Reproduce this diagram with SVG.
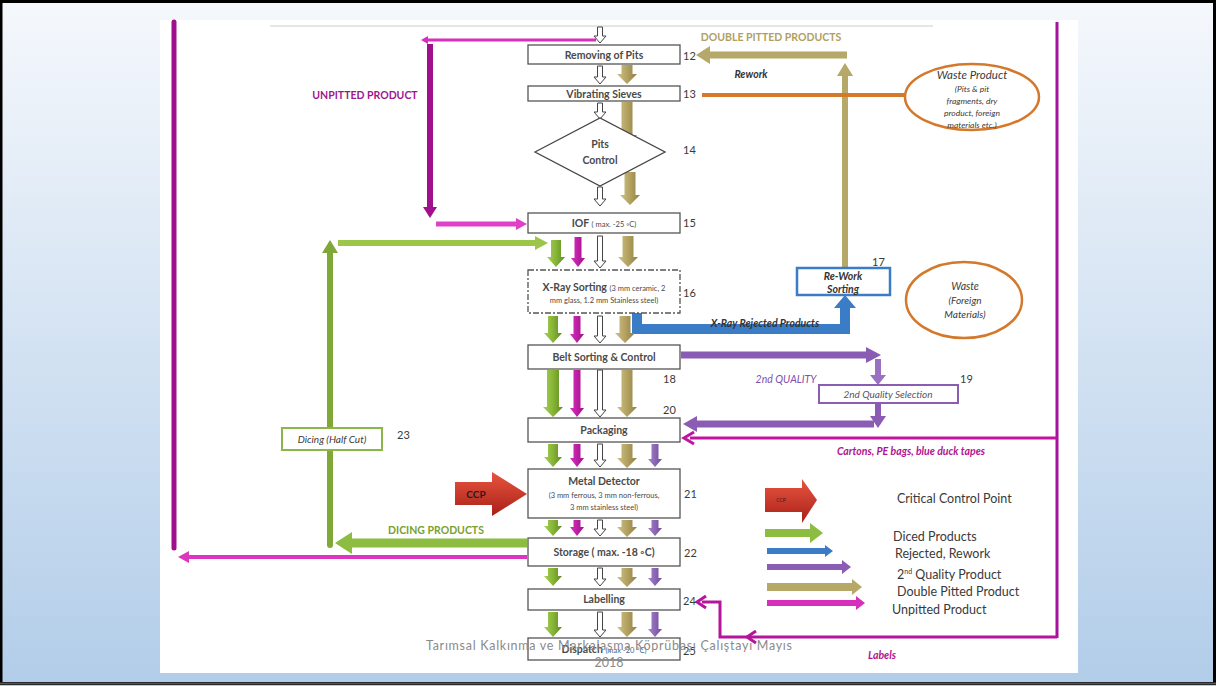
<svg xmlns="http://www.w3.org/2000/svg" width="1216" height="686" viewBox="0 0 1216 686">
  <defs>
    <linearGradient id="bg" x1="0" y1="0" x2="0" y2="1">
      <stop offset="0" stop-color="#f5f8fc"/>
      <stop offset="1" stop-color="#b2cde9"/>
    </linearGradient>
    <linearGradient id="gGold" x1="0" y1="0" x2="1" y2="0">
      <stop offset="0" stop-color="#cfc28a"/>
      <stop offset="0.5" stop-color="#b3a260"/>
      <stop offset="1" stop-color="#8f7f45"/>
    </linearGradient>
    <linearGradient id="gGreen" x1="0" y1="0" x2="1" y2="0">
      <stop offset="0" stop-color="#a8d055"/>
      <stop offset="0.5" stop-color="#86b536"/>
      <stop offset="1" stop-color="#5f8a22"/>
    </linearGradient>
    <linearGradient id="gMag" x1="0" y1="0" x2="1" y2="0">
      <stop offset="0" stop-color="#d830bd"/>
      <stop offset="1" stop-color="#a0108a"/>
    </linearGradient>
    <linearGradient id="gPur" x1="0" y1="0" x2="1" y2="0">
      <stop offset="0" stop-color="#a784cf"/>
      <stop offset="1" stop-color="#6f4a9a"/>
    </linearGradient>
    <linearGradient id="gRed" x1="0" y1="0" x2="0" y2="1">
      <stop offset="0" stop-color="#e8553f"/>
      <stop offset="1" stop-color="#a82018"/>
    </linearGradient>
  </defs>
  <style>
    text { font-family: "Lato", "Open Sans", "Liberation Sans", sans-serif; }
    .box { fill: #ffffff; stroke: #555555; stroke-width: 1.3; }
    .bt { fill: #4a4a4a; font-weight: bold; font-size: 10.5px; text-anchor: middle; }
    .sm { font-size: 7.5px; font-weight: normal; }
    .num { fill: #3a3a3a; font-size: 11px; }
    .hol { fill: #ffffff; stroke: #444444; stroke-width: 1; }
    .gold { fill: url(#gGold); }
    .green { fill: url(#gGreen); }
    .mag { fill: url(#gMag); }
    .pur { fill: url(#gPur); }
    .leg { fill: #3a3a3a; font-size: 12.5px; }
    .lab { font-weight: bold; font-size: 10.5px; text-anchor: middle; }
    .it { font-style: italic; }
  </style>

  <!-- slide background and frame -->
  <rect x="0" y="0" width="1216" height="686" fill="url(#bg)"/>
  <rect x="160" y="20" width="918" height="653" fill="#ffffff"/>
  <line x1="270" y1="26" x2="933" y2="26" stroke="#c8ccd0" stroke-width="1"/>
  <rect x="1" y="1.5" width="1213.5" height="682" fill="none" stroke="#000000" stroke-width="3"/>
  <line x1="0" y1="683.5" x2="1216" y2="683.5" stroke="#555555" stroke-width="2"/>

  <!-- connectors -->
  <g id="connectors">
    <!-- unpitted product loop -->
    <line x1="596" y1="40" x2="425" y2="40" stroke="#d62fbb" stroke-width="3"/>
    <polygon points="428,36 428,44 421,40" fill="#d62fbb"/>
    <line x1="430" y1="44" x2="430" y2="208" stroke="#a0108c" stroke-width="6"/>
    <polygon points="423,207 437,207 430,218" fill="#a0108c"/>
    <line x1="436" y1="224" x2="517" y2="224" stroke="#e040c8" stroke-width="5"/>
    <polygon points="516,218 516,230 527,224" fill="#e040c8"/>

    <!-- long unpitted return on the left -->
    <line x1="174" y1="22" x2="174" y2="548" stroke="#a0108c" stroke-width="5" stroke-linecap="round"/>
    <line x1="527" y1="557" x2="188" y2="557" stroke="#dd35c0" stroke-width="4"/>
    <polygon points="189,551 189,563 178,557" fill="#dd35c0"/>

    <!-- dicing loop -->
    <line x1="330" y1="545" x2="330" y2="252" stroke="#80a838" stroke-width="6" stroke-linecap="round"/>
    <polygon points="322,253 338,253 330,240" fill="#80a838"/>
    <line x1="338" y1="243" x2="536" y2="243" stroke="#9cc64a" stroke-width="6"/>
    <polygon points="535,236 535,250 548,243" fill="#9cc64a"/>
    <line x1="527" y1="543" x2="350" y2="543" stroke="#8cbc40" stroke-width="9"/>
    <polygon points="352,532 352,554 335,543" fill="#8cbc40"/>

    <!-- double pitted rework -->
    <line x1="847" y1="55" x2="709" y2="55" stroke="#b5a868" stroke-width="7"/>
    <polygon points="710,46 710,64 696,55" fill="#b5a868"/>
    <line x1="845" y1="268" x2="845" y2="75" stroke="#b5a868" stroke-width="6"/>
    <polygon points="837,76 853,76 845,63" fill="#b5a868"/>

    <!-- waste line from sieves -->
    <line x1="702" y1="95" x2="906" y2="95" stroke="#d4782c" stroke-width="4"/>

    <!-- x-ray rejected products -->
    <polyline points="637,313 637,329 845,329 845,307" fill="none" stroke="#3a7cc6" stroke-width="10"/>
    <polygon points="834,308 856,308 845,295" fill="#3a7cc6"/>

    <!-- 2nd quality loop -->
    <line x1="681" y1="355" x2="867" y2="355" stroke="#8a5cb4" stroke-width="7"/>
    <polygon points="866,347 866,363 881,355" fill="#8a5cb4"/>
    <line x1="878" y1="359" x2="878" y2="376" stroke="#9a70c4" stroke-width="6"/>
    <polygon points="870,375 886,375 878,385" fill="#9a70c4"/>
    <line x1="878" y1="402" x2="878" y2="417" stroke="#8a5cb4" stroke-width="6"/>
    <polygon points="870,416 886,416 878,428" fill="#8a5cb4"/>
    <line x1="874" y1="424" x2="696" y2="424" stroke="#8a5cb4" stroke-width="7"/>
    <polygon points="697,416 697,432 683,424" fill="#8a5cb4"/>

    <!-- packaging materials and labels supply -->
    <line x1="1057" y1="22" x2="1057" y2="638" stroke="#a5139a" stroke-width="3"/>
    <line x1="1057" y1="438" x2="690" y2="438" stroke="#c0169f" stroke-width="3"/>
    <polyline points="694,432 684,438 694,444" fill="none" stroke="#c0169f" stroke-width="3"/>
    <polyline points="1057,637 720,637 720,602 702,602" fill="none" stroke="#b5149c" stroke-width="3"/>
    <polyline points="706,596 697,602 706,608" fill="none" stroke="#b5149c" stroke-width="3"/>
    <polyline points="756,631 747,637 756,643" fill="none" stroke="#b5149c" stroke-width="3"/>

    <!-- main flow: hollow arrows -->
    <path class="hol" d="M597.5 27H602.5V36H606L600 43L594 36H597.5Z"/>
    <path class="hol" d="M597.5 66H602.5V77H606L600 84L594 77H597.5Z"/>
    <path class="hol" d="M597.5 103H602.5V112H606L600 119L594 112H597.5Z"/>
    <path class="hol" d="M597.5 187H602.5V199H606L600 206L594 199H597.5Z"/>
    <path class="hol" d="M597.5 236H602.5V261H606L600 268L594 261H597.5Z"/>
    <path class="hol" d="M597.5 316H602.5V336H606L600 343L594 336H597.5Z"/>
    <path class="hol" d="M597.5 370H602.5V410H606L600 417L594 410H597.5Z"/>
    <path class="hol" d="M597.5 444H602.5V460H606L600 467L594 460H597.5Z"/>
    <path class="hol" d="M597.5 520H602.5V529H606L600 536L594 529H597.5Z"/>
    <path class="hol" d="M597.5 568H602.5V579H606L600 586L594 579H597.5Z"/>
    <path class="hol" d="M597.5 612H602.5V630H606L600 637L594 630H597.5Z"/>

    <!-- double pitted stream -->
    <path class="gold" d="M621.5 65H632.5V74H637L627 84L617 74H621.5Z"/>
    <path class="gold" d="M621.5 102H632.5V135H637L627 145L617 135H621.5Z"/>
    <path class="gold" d="M624.5 172H635.5V195H640L630 205L620 195H624.5Z"/>
    <path class="gold" d="M622.5 236H633.5V257H638L628 267L618 257H622.5Z"/>
    <path class="gold" d="M619.5 316H630.5V333H635L625 343L615 333H619.5Z"/>
    <path class="gold" d="M621.5 370H632.5V407H637L627 417L617 407H621.5Z"/>
    <path class="gold" d="M621.5 444H632.5V458H637L627 468L617 458H621.5Z"/>
    <path class="gold" d="M621.5 520H632.5V527H637L627 537L617 527H621.5Z"/>
    <path class="gold" d="M621.5 568H632.5V577H637L627 587L617 577H621.5Z"/>
    <path class="gold" d="M621.5 612H632.5V627H637L627 637L617 627H621.5Z"/>

    <!-- diced stream -->
    <path class="green" d="M551 240H561V257H565L556 267L547 257H551Z"/>
    <path class="green" d="M548 316H558V333H562L553 343L544 333H548Z"/>
    <path class="green" d="M547 370H559V407H563L553 417L543 407H547Z"/>
    <path class="green" d="M548 444H558V457H562L553 467L544 457H548Z"/>
    <path class="green" d="M548 520H558V526H562L553 536L544 526H548Z"/>
    <path class="green" d="M548 568H558V576H562L553 586L544 576H548Z"/>
    <path class="green" d="M548 612H558V627H562L553 637L544 627H548Z"/>

    <!-- unpitted stream -->
    <path class="mag" d="M574.5 237H581.5V258H585L578 267L571 258H574.5Z"/>
    <path class="mag" d="M573.5 316H580.5V334H584L577 343L570 334H573.5Z"/>
    <path class="mag" d="M573.5 370H580.5V408H584L577 417L570 408H573.5Z"/>
    <path class="mag" d="M573.5 444H580.5V458H584L577 467L570 458H573.5Z"/>
    <path class="mag" d="M573.5 520H580.5V527H584L577 536L570 527H573.5Z"/>

    <!-- 2nd quality stream -->
    <path class="pur" d="M651.5 444H658.5V459H662L655 467L648 459H651.5Z"/>
    <path class="pur" d="M651.5 520H658.5V528H662L655 536L648 528H651.5Z"/>
    <path class="pur" d="M651.5 568H658.5V578H662L655 586L648 578H651.5Z"/>
    <path class="pur" d="M651.5 612H658.5V629H662L655 637L648 629H651.5Z"/>
  </g>

  <!-- flow labels -->
  <g id="flow-labels">
    <text class="lab" x="365" y="99" fill="#a0168e">UNPITTED PRODUCT</text>
    <text class="lab" x="771" y="41" fill="#b0a062">DOUBLE PITTED PRODUCTS</text>
    <text class="lab it" x="751" y="78" fill="#333333">Rework</text>
    <text class="lab" x="436" y="534" fill="#7aa030" font-size="11.5px">DICING PRODUCTS</text>
    <text class="lab it" x="765" y="327" fill="#333333" font-size="10px">X-Ray Rejected Products</text>
    <text class="it" x="786" y="383" fill="#8050a8" font-size="10.5px" text-anchor="middle">2nd QUALITY</text>
    <text class="lab it" x="911" y="455" fill="#b0148f" font-size="10px">Cartons, PE bags, blue duck tapes</text>
    <text class="lab it" x="882" y="659" fill="#b0148f" font-size="10.5px">Labels</text>
  </g>

  <!-- process steps -->
  <g id="n12">
    <rect class="box" x="528" y="45" width="152" height="19"/>
    <text class="bt" x="604" y="58.5">Removing of Pits</text>
    <text class="num" x="683" y="60">12</text>
  </g>
  <g id="n13">
    <rect class="box" x="528" y="86" width="152" height="15"/>
    <text class="bt" x="604" y="97.5">Vibrating Sieves</text>
    <text class="num" x="683" y="98">13</text>
  </g>
  <g id="n14">
    <polygon points="535,152 600,118 665,152 600,186" fill="#ffffff" stroke="#444444" stroke-width="1.3"/>
    <text class="bt" x="600" y="148" font-weight="normal" font-size="9.5px">Pits</text>
    <text class="bt" x="600" y="164" font-weight="normal" font-size="9.5px">Control</text>
    <text class="num" x="683" y="154">14</text>
  </g>
  <g id="n15">
    <rect class="box" x="528" y="213" width="152" height="20"/>
    <text class="bt" x="604" y="227">IOF <tspan class="sm">( max. -25 ◦C)</tspan></text>
    <text class="num" x="683" y="227">15</text>
  </g>
  <g id="n16">
    <rect x="528" y="270" width="152" height="43" fill="#ffffff" stroke="#555555" stroke-width="1.3" stroke-dasharray="6,2,2,2"/>
    <text class="bt" x="604" y="291" font-weight="normal">X-Ray Sorting <tspan class="sm">(3 mm ceramic, 2</tspan></text>
    <text class="bt sm" x="604" y="303">mm glass, 1.2 mm Stainless steel)</text>
    <text class="num" x="683" y="297">16</text>
  </g>
  <g id="n18">
    <rect class="box" x="528" y="345" width="152" height="24"/>
    <text class="bt" x="604" y="361">Belt Sorting &amp; Control</text>
    <text class="num" x="663" y="383">18</text>
  </g>
  <g id="n20">
    <rect class="box" x="528" y="418" width="152" height="24"/>
    <text class="bt" x="604" y="434">Packaging</text>
    <text class="num" x="663" y="414">20</text>
  </g>
  <g id="n21">
    <rect class="box" x="528" y="469" width="152" height="49"/>
    <text class="bt" x="604" y="485" font-size="11px">Metal Detector</text>
    <text class="bt sm" x="604" y="498">(3 mm ferrous, 3 mm non-ferrous,</text>
    <text class="bt sm" x="604" y="510">3 mm stainless steel)</text>
    <text class="num" x="684" y="498">21</text>
  </g>
  <g id="n22">
    <rect class="box" x="528" y="538" width="152" height="28"/>
    <text class="bt" x="604" y="556" font-weight="normal" font-size="11px">Storage ( max. -18 ◦C)</text>
    <text class="num" x="684" y="557">22</text>
  </g>
  <g id="n24">
    <rect class="box" x="528" y="589" width="152" height="21"/>
    <text class="bt" x="604" y="603" font-size="9px" fill="#3d5560">Labelling</text>
    <text class="num" x="683" y="605">24</text>
  </g>
  <g id="n25">
    <rect class="box" x="528" y="638" width="152" height="22"/>
    <text class="bt" x="604" y="653" font-size="9px" fill="#5a5030">Dispatch <tspan class="sm" fill="#3d6a90">(max -20 °C)</tspan></text>
    <text class="num" x="683" y="655">25</text>
  </g>

  <!-- side steps -->
  <g id="n17">
    <rect x="797" y="268" width="93" height="27" fill="#ffffff" stroke="#3a7cc6" stroke-width="2.5"/>
    <text class="lab it" x="843" y="280" fill="#333333" font-size="10px">Re-Work</text>
    <text class="lab it" x="843" y="293" fill="#333333" font-size="10px">Sorting</text>
    <text class="num" x="872" y="266">17</text>
  </g>
  <g id="n19">
    <rect x="819" y="385" width="139" height="18" fill="#ffffff" stroke="#8a5cb4" stroke-width="2"/>
    <text class="it" x="888" y="398" fill="#555566" font-size="10px" text-anchor="middle">2nd Quality Selection</text>
    <text class="num" x="960" y="383">19</text>
  </g>
  <g id="n23">
    <rect x="282" y="428" width="100" height="22" fill="#ffffff" stroke="#8ab846" stroke-width="2"/>
    <text class="it" x="332" y="443" fill="#3a3a3a" font-size="10px" text-anchor="middle">Dicing (Half Cut)</text>
    <text class="num" x="397" y="439">23</text>
  </g>
  <g id="waste-product">
    <ellipse cx="972" cy="97" rx="67" ry="33" fill="none" stroke="#d4782c" stroke-width="2.5"/>
    <text class="it" x="972" y="79" fill="#3a3a3a" font-size="11.5px" text-anchor="middle">Waste Product</text>
    <text class="it" x="972" y="92" fill="#3a3a3a" font-size="8.5px" text-anchor="middle">(Pits &amp; pit</text>
    <text class="it" x="972" y="104" fill="#3a3a3a" font-size="8.5px" text-anchor="middle">fragments, dry</text>
    <text class="it" x="972" y="116" fill="#3a3a3a" font-size="8.5px" text-anchor="middle">product, foreign</text>
    <text class="it" x="972" y="128" fill="#3a3a3a" font-size="8.5px" text-anchor="middle">materials etc.)</text>
  </g>
  <g id="waste-foreign">
    <ellipse cx="964" cy="300" rx="58" ry="38" fill="none" stroke="#d4782c" stroke-width="2.5"/>
    <text class="it" x="965" y="290" fill="#3a3a3a" font-size="10.5px" text-anchor="middle">Waste</text>
    <text class="it" x="965" y="304" fill="#3a3a3a" font-size="10px" text-anchor="middle">(Foreign</text>
    <text class="it" x="965" y="318" fill="#3a3a3a" font-size="10px" text-anchor="middle">Materials)</text>
  </g>
  <g id="ccp">
    <polygon points="455,482 492,482 492,472 527,494 492,516 492,505 455,505" fill="url(#gRed)"/>
    <text x="476" y="498" fill="#2a1a1a" font-size="10px" font-weight="bold" text-anchor="middle">CCP</text>
  </g>

  <!-- legend -->
  <g id="legend">
    <polygon points="765,488 802,488 802,479 817,500 802,523 802,512 765,512" fill="url(#gRed)"/>
    <text x="781" y="502" fill="#3a1a1a" font-size="5px" text-anchor="middle">CCP</text>
    <text class="leg" x="897" y="503">Critical Control Point</text>

    <polygon points="765,529 810,529 810,523 823,533 810,543 810,537 765,537" fill="#8cbc40"/>
    <text class="leg" x="893" y="541">Diced Products</text>

    <polygon points="767,548 825,548 825,545 833,551 825,557 825,554 767,554" fill="#3a7cc6"/>
    <text class="leg" x="895" y="558">Rejected, Rework</text>

    <polygon points="767,564 842,564 842,560 851,567 842,574 842,570 767,570" fill="#8a5cb4"/>
    <text class="leg" x="897" y="579">2<tspan font-size="7px" dy="-5">nd</tspan><tspan dy="5"> Quality Product</tspan></text>

    <polygon points="767,583 852,583 852,579 862,587 852,595 852,591 767,591" fill="#b5a868"/>
    <text class="leg" x="897" y="596">Double Pitted Product</text>

    <polygon points="767,600 856,600 856,596 865,603 856,610 856,606 767,606" fill="#d62fbb"/>
    <text class="leg" x="892" y="614">Unpitted Product</text>
  </g>

  <!-- slide footer -->
  <g id="footer">
    <text x="609" y="650" fill="#8a8a8a" font-size="12.5px" text-anchor="middle" textLength="366">Tarımsal Kalkınma ve Markalaşma Köprübaşı Çalıştayı Mayıs</text>
    <text x="609" y="667" fill="#8a8a8a" font-size="12.5px" text-anchor="middle">2018</text>
  </g>
</svg>
